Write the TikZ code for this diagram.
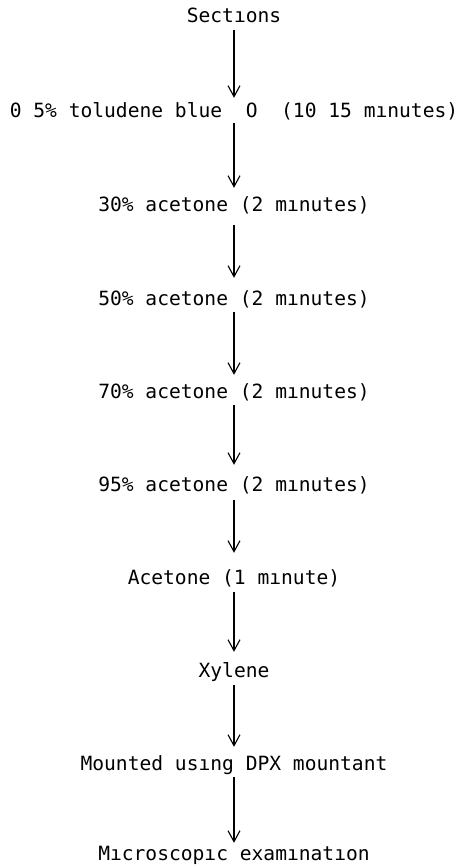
\documentclass[tikz,border=0pt]{standalone}
\usepackage{fontspec}
\setmonofont{DejaVu Sans Mono}
\usetikzlibrary{arrows.meta}
\tikzset{
  stage/.style={inner sep=0pt, anchor=base, text height=13pt, text depth=0pt,
    font=\ttfamily\fontsize{19.6pt}{22pt}\selectfont},
  flow/.style={line width=1.1pt, -{Straight Barb[length=11pt,width=12pt]}}
}
\begin{document}
\begin{tikzpicture}[x=1pt,y=-1pt]
\useasboundingbox (0,0) rectangle (458,866);
\node[stage] (s0) at (234,23) {Sectıons};
\node[stage] (s1) at (234,118) {0 5\% toludene blue\ \ O\ \ (10 15 mınutes)};
\node[stage] (s2) at (234,212) {30\% acetone (2 mınutes)};
\node[stage] (s3) at (234,305) {50\% acetone (2 mınutes)};
\node[stage] (s4) at (234,398) {70\% acetone (2 mınutes)};
\node[stage] (s5) at (234,491) {95\% acetone (2 mınutes)};
\node[stage] (s6) at (234,584) {Acetone (1 mınute)};
\node[stage] (s7) at (234,677) {Xylene};
\node[stage] (s8) at (234,770) {Mounted usıng DPX mountant};
\node[stage] (s9) at (234,860) {Mıcroscopıc examınatıon};
\draw[flow, shorten <=7pt, shorten >=7pt] (s0.south) -- (s1.north);
\draw[flow, shorten <=5pt, shorten >=11pt] (s1.south) -- (s2.north);
\draw[flow, shorten <=13pt, shorten >=14pt] (s2.south) -- (s3.north);
\draw[flow, shorten <=7pt, shorten >=10pt] (s3.south) -- (s4.north);
\draw[flow, shorten <=7pt, shorten >=13pt] (s4.south) -- (s5.north);
\draw[flow, shorten <=9pt, shorten >=18pt] (s5.south) -- (s6.north);
\draw[flow, shorten <=8pt, shorten >=12pt] (s6.south) -- (s7.north);
\draw[flow, shorten <=8pt, shorten >=10pt] (s7.south) -- (s8.north);
\draw[flow, shorten <=7pt, shorten >=4pt] (s8.south) -- (s9.north);
\end{tikzpicture}
\end{document}
